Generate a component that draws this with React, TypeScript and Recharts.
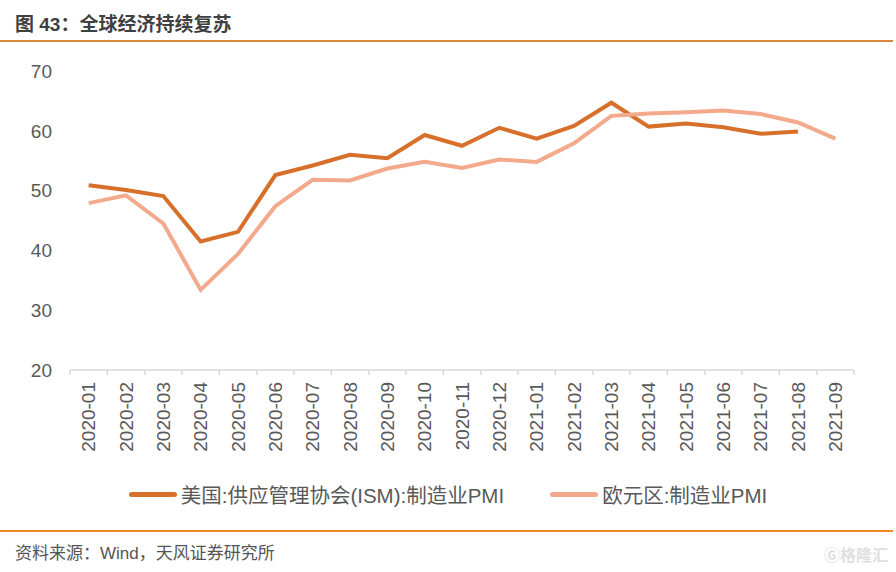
import React from "react";
import { LineChart, Line, XAxis, YAxis, Legend } from "recharts";

const categories = [
  "2020-01", "2020-02", "2020-03", "2020-04", "2020-05", "2020-06", "2020-07",
  "2020-08", "2020-09", "2020-10", "2020-11", "2020-12", "2021-01", "2021-02",
  "2021-03", "2021-04", "2021-05", "2021-06", "2021-07", "2021-08", "2021-09",
];
const usIsm = [
  50.9, 50.1, 49.1, 41.5, 43.1, 52.6, 54.2, 56.0, 55.4, 59.3, 57.5, 60.5,
  58.7, 60.8, 64.7, 60.7, 61.2, 60.6, 59.5, 59.9, null,
];
const euroPmi = [
  47.9, 49.2, 44.5, 33.4, 39.4, 47.4, 51.8, 51.7, 53.7, 54.8, 53.8, 55.2,
  54.8, 57.9, 62.5, 62.9, 63.1, 63.4, 62.8, 61.4, 58.7,
];
const yTicks = [20, 30, 40, 50, 60, 70];
const seriesNames = ["美国:供应管理协会(ISM):制造业PMI", "欧元区:制造业PMI"];
const seriesColors = ["#D6702B", "#F3A98B"];

const data = categories.map((c, i) => ({ month: c, us: usIsm[i], eu: euroPmi[i] }));

const W = 896;
const H = 572;
const M = { top: 71, right: 42, left: 0, bottom: 107 };
const Y_W = 70;
const BAND = (W - Y_W - M.left - M.right) / categories.length;
const FONT = '"Liberation Sans", Arial, "Noto Sans CJK SC", sans-serif';

const XTick = (props: any) => {
  const { x, y, payload, index } = props;
  const last = index === categories.length - 1;
  return (
    <g transform={`translate(${x},${y})`}>
      <line x1={-BAND / 2} y1={-8} x2={-BAND / 2} y2={-3} stroke="#d9d9d9" strokeWidth={1.5} />
      {last && <line x1={BAND / 2} y1={-8} x2={BAND / 2} y2={-3} stroke="#d9d9d9" strokeWidth={1.5} />}
      <text
        transform="rotate(-90)"
        x={-4}
        y={0}
        dy="0.35em"
        textAnchor="end"
        fill="#595959"
        fontSize={19}
        fontFamily={FONT}
      >
        {payload.value}
      </text>
    </g>
  );
};

const LegendContent = () => (
  <div
    style={{
      display: "flex",
      justifyContent: "center",
      alignItems: "center",
      gap: 46,
      fontFamily: FONT,
      fontSize: 20.5,
      color: "#595959",
      width: W,
    }}
  >
    {seriesNames.map((n, i) => (
      <div key={n} style={{ display: "flex", alignItems: "center" }}>
        <div
          style={{
            width: 48,
            height: 5,
            borderRadius: 3,
            background: seriesColors[i],
            marginRight: 4,
          }}
        />
        <span>{n}</span>
      </div>
    ))}
  </div>
);

export default function App() {
  return (
    <div
      style={{
        position: "absolute",
        left: 0,
        top: 0,
        width: W,
        height: H,
        background: "#fff",
        fontFamily: FONT,
      }}
    >
      <div
        style={{
          position: "absolute",
          left: 15,
          top: 9,
          fontSize: 19,
          fontWeight: "bold",
          color: "#404040",
          whiteSpace: "nowrap",
        }}
      >
        图 43：全球经济持续复苏
      </div>
      <div style={{ position: "absolute", left: 0, top: 40, width: 893, height: 1.5, background: "#D8893E" }} />
      <div style={{ position: "absolute", left: 0, top: 530, width: 893, height: 1.5, background: "#F08A24" }} />
      <div
        style={{
          position: "absolute",
          left: 15,
          top: 539,
          fontSize: 17,
          color: "#555",
          whiteSpace: "nowrap",
        }}
      >
        资料来源：Wind，天风证券研究所
      </div>
      <div
        style={{
          position: "absolute",
          left: 824,
          top: 542,
          fontSize: 16,
          color: "#e0e0e0",
          whiteSpace: "nowrap",
          fontWeight: "bold",
        }}
      >
        Ⓖ格隆汇
      </div>
      <div style={{ position: "absolute", left: 0, top: 0 }}>
        <LineChart width={W} height={H} data={data} margin={M}>
          <XAxis
            dataKey="month"
            interval={0}
            height={95}
            padding={{ left: BAND / 2, right: BAND / 2 }}
            axisLine={{ stroke: "#d9d9d9", strokeWidth: 1.5 }}
            tickLine={false}
            tick={<XTick />}
          />
          <YAxis
            width={Y_W}
            domain={[20, 70]}
            ticks={yTicks}
            axisLine={false}
            tickLine={false}
            tickMargin={12}
            tick={{ fill: "#595959", fontSize: 19, fontFamily: FONT }}
          />
          <Legend
            layout="horizontal"
            verticalAlign="middle"
            align="center"
            wrapperStyle={{ position: "absolute", top: 479, left: 0, width: W }}
            content={<LegendContent />}
          />
          <Line
            dataKey="us"
            name={seriesNames[0]}
            stroke={seriesColors[0]}
            strokeWidth={4}
            dot={false}
            isAnimationActive={false}
          />
          <Line
            dataKey="eu"
            name={seriesNames[1]}
            stroke={seriesColors[1]}
            strokeWidth={4}
            dot={false}
            isAnimationActive={false}
          />
        </LineChart>
      </div>
    </div>
  );
}
